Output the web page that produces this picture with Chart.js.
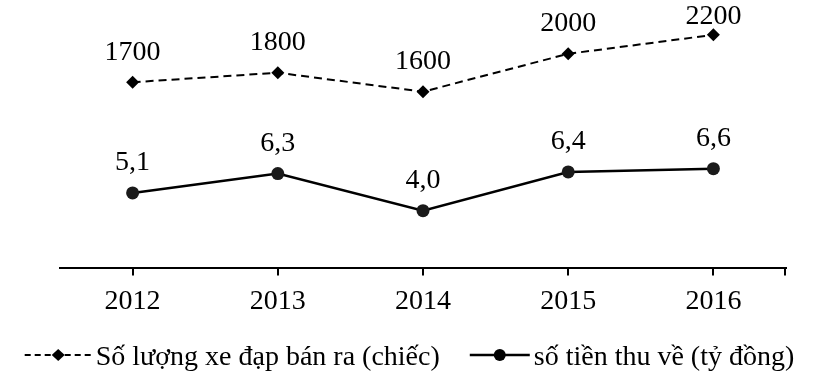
<!DOCTYPE html>
<html>
<head>
<meta charset="utf-8">
<script src="https://cdn.jsdelivr.net/npm/chart.js@4/dist/chart.umd.min.js"></script>
<style>
  html, body { margin: 0; padding: 0; background: #fff; }
  #khung { width: 813px; height: 384px; }
</style>
</head>
<body>
<div id="khung"><canvas id="myChart"></canvas></div>
<script>
const nam = ['2012', '2013', '2014', '2015', '2016'];
const soLuongXe = [1700, 1800, 1600, 2000, 2200];
const soTien = [5.1, 6.3, 4.0, 6.4, 6.6];
const tenSoLuong = 'Số lượng xe đạp bán ra (chiếc)';
const tenSoTien = 'số tiền thu về (tỷ đồng)';

const chu = "'Liberation Serif', 'Times New Roman', serif";
const den = '#000';

// so lieu ghi tren moi diem
const nhanSo = {
  id: 'nhanSo',
  afterDatasetsDraw(chart) {
    const ctx = chart.ctx;
    ctx.save();
    ctx.font = '28px ' + chu;
    ctx.fillStyle = den;
    ctx.textAlign = 'center';
    ctx.textBaseline = 'middle';
    chart.data.datasets.forEach((ds, i) => {
      chart.getDatasetMeta(i).data.forEach((pt, j) => {
        const v = ds.data[j];
        const txt = i === 0 ? String(v) : v.toFixed(1).replace('.', ',');
        ctx.fillText(txt, pt.x, Math.max(pt.y - 30, 17));
      });
    });
    ctx.restore();
  }
};

// vach nho o dau phai truc hoanh
const vachCuoi = {
  id: 'vachCuoi',
  afterDraw(chart) {
    const { ctx, chartArea } = chart;
    ctx.save();
    ctx.strokeStyle = den;
    ctx.lineWidth = 2;
    ctx.beginPath();
    ctx.moveTo(chartArea.right - 1, chartArea.bottom);
    ctx.lineTo(chartArea.right - 1, chartArea.bottom + 7);
    ctx.stroke();
    ctx.restore();
  }
};

// chu giai ve tay o duoi: mau duong + chu, can giua
const chuGiai = {
  id: 'chuGiai',
  afterDraw(chart) {
    const ctx = chart.ctx;
    const y = 358;
    const mauRong = [67, 60];
    const khe = 4, cach = 30;
    ctx.save();
    ctx.font = '28px ' + chu;
    const rongChu = chart.data.datasets.map(ds => ctx.measureText(ds.label).width);
    const tong = mauRong[0] + khe + rongChu[0] + cach + mauRong[1] + khe + rongChu[1];
    let x = (chart.width - tong) / 2 + 3;
    chart.data.datasets.forEach((ds, i) => {
      const w = mauRong[i];
      ctx.strokeStyle = den;
      ctx.fillStyle = den;
      ctx.lineWidth = i === 0 ? 2 : 2.4;
      ctx.setLineDash(i === 0 ? [6, 4] : []);
      ctx.beginPath();
      ctx.moveTo(x, y - 3);
      ctx.lineTo(x + w, y - 3);
      ctx.stroke();
      ctx.setLineDash([]);
      const cx = x + w / 2;
      ctx.beginPath();
      if (i === 0) {
        ctx.moveTo(cx, y - 9); ctx.lineTo(cx + 6.5, y - 3); ctx.lineTo(cx, y + 3); ctx.lineTo(cx - 6.5, y - 3);
        ctx.closePath();
      } else {
        ctx.arc(cx, y - 3, 6, 0, Math.PI * 2);
      }
      ctx.fill();
      x += w + khe;
      ctx.textAlign = 'left';
      ctx.textBaseline = 'middle';
      ctx.fillText(ds.label, x, y);
      x += rongChu[i] + cach;
    });
    ctx.restore();
  }
};

const config = {
  type: 'line',
  data: {
    labels: nam,
    datasets: [{
      label: tenSoLuong,
      data: soLuongXe,
      yAxisID: 'yXe',
      borderColor: den,
      backgroundColor: den,
      borderWidth: 2,
      borderDash: [8, 5],
      pointStyle: 'rectRot',
      pointRadius: 6.5,
      pointBackgroundColor: den,
      pointBorderWidth: 0,
      clip: false
    }, {
      label: tenSoTien,
      data: soTien,
      yAxisID: 'yTien',
      borderColor: den,
      backgroundColor: den,
      borderWidth: 2.5,
      pointStyle: 'circle',
      pointRadius: 6.5,
      pointBackgroundColor: '#1a1a1a',
      pointBorderWidth: 0,
      clip: false
    }]
  },
  options: {
    responsive: true,
    maintainAspectRatio: false,
    animation: false,
    layout: { padding: { left: 60, right: 27, top: 0, bottom: 57 } },
    plugins: {
      tooltip: { enabled: false },
      legend: { display: false }
    },
    scales: {
      x: {
        type: 'category',
        offset: true,
        grid: {
          display: true,
          drawOnChartArea: false,
          drawTicks: true,
          tickLength: 7,
          offset: false,
          color: den,
          lineWidth: 2
        },
        border: { display: true, color: den, width: 2 },
        ticks: { color: den, padding: 9, font: { family: chu, size: 28 } }
      },
      yTien: { display: false, position: 'left', min: 0.43, max: 16.64 },
      yXe: { display: false, position: 'right', min: -264, max: 2499 }
    }
  },
  plugins: [nhanSo, vachCuoi, chuGiai]
};

new Chart(document.getElementById('myChart'), config);
</script>
</body>
</html>
